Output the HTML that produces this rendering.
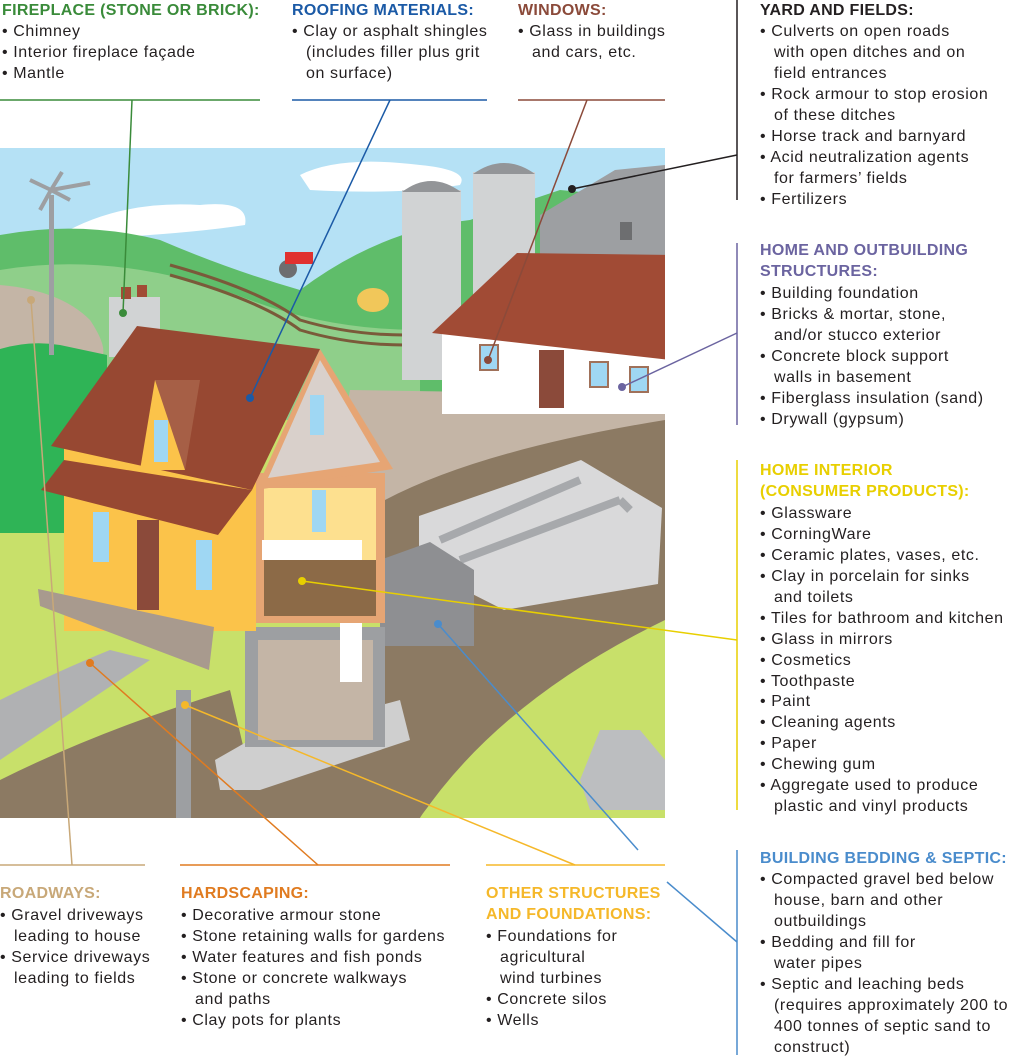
<!DOCTYPE html>
<html><head><meta charset="utf-8"><style>
html,body{margin:0;padding:0;background:#fff;}
svg{display:block;}
text{font-family:"Liberation Sans",Arial,sans-serif;font-size:16px;letter-spacing:0.6px;fill:#231f20;}
.h{font-weight:bold;letter-spacing:0.3px;}
</style></head><body>
<svg width="1024" height="1059" viewBox="0 0 1024 1059" xmlns="http://www.w3.org/2000/svg">
<defs><clipPath id="c"><rect x="0" y="148" width="665" height="670"/></clipPath></defs>
<g clip-path="url(#c)">
<rect x="0" y="148" width="665" height="670" fill="#b5e1f5"/>
<rect x="0" y="400" width="665" height="418" fill="#c8e06a"/>
<path d="M300,175 Q340,155 420,165 Q470,170 460,185 Q400,195 310,190 Z" fill="#fff"/>
<path d="M60,235 Q120,200 200,205 Q250,200 245,225 Q180,235 60,240 Z" fill="#fff"/>
<path d="M0,235 Q80,220 160,240 Q230,270 300,290 Q380,230 470,220 L560,190 L665,200 L665,420 L0,420 Z" fill="#5fbd6a"/>
<path d="M0,270 Q120,250 250,300 Q330,330 420,330 L420,420 L0,420 Z" fill="#8fcf8a"/>
<path d="M0,285 Q60,290 90,320 Q110,350 100,360 L0,360 Z" fill="#c4b5a6"/>
<path d="M170,265 Q260,290 300,320 Q350,335 405,335" stroke="#7a5a3a" stroke-width="3" fill="none"/>
<path d="M170,275 Q260,300 300,330 Q350,345 405,345" stroke="#7a5a3a" stroke-width="3" fill="none"/>
<path d="M540,215 L615,170 L665,165 L665,300 L540,300 Z" fill="#9d9fa2"/>
<rect x="620" y="222" width="12" height="18" fill="#6d6e70"/>
<rect x="402" y="190" width="59" height="190" fill="#d1d3d4"/>
<path d="M402,192 Q431,170 461,192 Z" fill="#939598"/>
<rect x="473" y="172" width="62" height="165" fill="#d1d3d4"/>
<path d="M473,174 Q504,152 535,174 Z" fill="#939598"/>
<circle cx="288" cy="269" r="9" fill="#6d6e70"/><rect x="285" y="252" width="28" height="12" fill="#e0312f"/>
<ellipse cx="373" cy="300" rx="16" ry="12" fill="#f1c75a"/>
<path d="M350,390 L665,395 L665,440 Q560,460 470,480 Q420,500 385,540 L330,500 Z" fill="#c4b5a6"/>
<path d="M385,500 Q480,450 665,420 L665,640 Q560,700 480,760 Q430,800 420,818 L190,818 Q260,720 380,650 Z" fill="#8c7a63"/>
<path d="M0,818 L0,780 Q100,730 230,690 L260,818 Z" fill="#8c7a63"/>
<path d="M0,700 Q60,670 110,650 L150,660 Q90,700 0,760 Z" fill="#b0b1b3"/>
<rect x="442" y="332" width="223" height="82" fill="#fff"/>
<path d="M432,333 L517,253 L670,255 L670,360 Z" fill="#a14b35"/>
<rect x="480" y="345" width="18" height="25" fill="#9fd7f3" stroke="#a0715a" stroke-width="2"/>
<rect x="539" y="350" width="25" height="58" fill="#8b4a3a"/>
<rect x="590" y="362" width="18" height="25" fill="#9fd7f3" stroke="#a0715a" stroke-width="2"/>
<rect x="630" y="367" width="18" height="25" fill="#9fd7f3" stroke="#a0715a" stroke-width="2"/>
<path d="M419,516 L581,460 L662,508 L658,584 L504,610 L419,567 Z" fill="#d9d9da"/>
<path d="M440,540 L580,480 M460,560 L620,500 M620,500 L630,510" stroke="#a7a9ac" stroke-width="8" fill="none"/>
<path d="M380,560 L430,542 L474,570 L474,646 L380,646 Z" fill="#8e8f92"/>
<path d="M420,818 Q500,700 665,620 L665,818 Z" fill="#c8e06a"/>
<path d="M580,780 L600,730 L640,730 L665,760 L665,810 L590,810 Z" fill="#bcbec0"/>
<path d="M0,349 Q30,340 60,345 L107,355 L107,533 L0,533 Z" fill="#2fb456"/>
<rect x="49" y="195" width="5" height="160" fill="#9d9fa2"/>
<path d="M51,190 L30,180 M51,190 L40,210 M51,190 L62,172 M51,190 L70,200 M51,190 L90,183" stroke="#9d9fa2" stroke-width="4"/>
<rect x="109" y="297" width="51" height="60" fill="#d1d3d4"/>
<rect x="121" y="287" width="10" height="12" fill="#a14b35"/><rect x="137" y="285" width="10" height="12" fill="#a14b35"/>
<path d="M215,760 L250,740 L400,700 L410,740 L260,790 L220,790 Z" fill="#cfcfcf"/>
<rect x="245" y="627" width="140" height="120" fill="#9d9fa2"/>
<rect x="258" y="640" width="115" height="100" fill="#c4b5a6"/>
<rect x="340" y="620" width="22" height="62" fill="#fff"/>
<rect x="176" y="690" width="15" height="128" fill="#9d9fa2"/>
<rect x="64" y="448" width="192" height="183" fill="#fbc34a"/>
<rect x="256" y="473" width="129" height="150" fill="#e6a574"/>
<rect x="264" y="488" width="112" height="128" fill="#fde08f"/>
<rect x="264" y="560" width="112" height="56" fill="#8c6a47"/>
<rect x="262" y="540" width="100" height="20" fill="#fff"/>
<path d="M320,349 L393,469 L256,490 Z" fill="#e6a574"/>
<path d="M320,360 L380,462 L268,478 Z" fill="#d9d0cb"/>
<path d="M51,446 L137,326 L320,349 L252,490 Z" fill="#974832"/>
<path d="M155,380 L200,380 L185,470 Z" fill="#a65f46"/>
<path d="M155,380 L185,470 L140,470 Z" fill="#fbc34a"/>
<path d="M41,490 L64,460 L252,490 L218,535 Z" fill="#974832"/>
<path d="M38,589 L214,627 L209,670 L40,606 Z" fill="#a89a8e"/>
<rect x="137" y="520" width="22" height="90" fill="#8b4a3a"/>
<rect x="93" y="512" width="16" height="50" fill="#9fd7f3"/><rect x="196" y="540" width="16" height="50" fill="#9fd7f3"/>
<rect x="154" y="420" width="14" height="42" fill="#9fd7f3"/><rect x="310" y="395" width="14" height="40" fill="#9fd7f3"/>
<rect x="312" y="490" width="14" height="42" fill="#9fd7f3"/>
</g>
<g fill="none" stroke-width="1.5">
<line x1="0" y1="100" x2="260" y2="100" stroke="#3a8b3a"/>
<line x1="132" y1="100" x2="123" y2="313" stroke="#3a8b3a"/>
<line x1="292" y1="100" x2="487" y2="100" stroke="#1b5aa6"/>
<line x1="390" y1="100" x2="250" y2="398" stroke="#1b5aa6"/>
<line x1="518" y1="100" x2="665" y2="100" stroke="#8b4a3a"/>
<line x1="587" y1="100" x2="488" y2="360" stroke="#8b4a3a"/>
<line x1="737" y1="0" x2="737" y2="200" stroke="#231f20"/>
<line x1="737" y1="155" x2="572" y2="189" stroke="#231f20"/>
<line x1="737" y1="243" x2="737" y2="425" stroke="#6b64a0"/>
<line x1="737" y1="333" x2="622" y2="387" stroke="#6b64a0"/>
<line x1="737" y1="460" x2="737" y2="810" stroke="#e8cf00"/>
<line x1="737" y1="640" x2="302" y2="581" stroke="#e8cf00"/>
<line x1="737" y1="850" x2="737" y2="1055" stroke="#4a8ccc"/>
<line x1="638" y1="850" x2="438" y2="624" stroke="#4a8ccc"/>
<line x1="667" y1="882" x2="737" y2="942" stroke="#4a8ccc"/>
<line x1="0" y1="865" x2="145" y2="865" stroke="#c8a878"/>
<line x1="72" y1="865" x2="31" y2="300" stroke="#c8a878"/>
<line x1="180" y1="865" x2="450" y2="865" stroke="#e07b20"/>
<line x1="318" y1="865" x2="90" y2="663" stroke="#e07b20"/>
<line x1="486" y1="865" x2="665" y2="865" stroke="#f5b82a"/>
<line x1="575" y1="865" x2="185" y2="705" stroke="#f5b82a"/>
</g>
<g>
<circle cx="123" cy="313" r="4" fill="#3a8b3a"/><circle cx="250" cy="398" r="4" fill="#1b5aa6"/>
<circle cx="488" cy="360" r="4" fill="#8b4a3a"/><circle cx="572" cy="189" r="4" fill="#231f20"/>
<circle cx="622" cy="387" r="4" fill="#6b64a0"/><circle cx="302" cy="581" r="4" fill="#e8cf00"/>
<circle cx="438" cy="624" r="4" fill="#4a8ccc"/><circle cx="31" cy="300" r="4" fill="#c8a878"/>
<circle cx="90" cy="663" r="4" fill="#e07b20"/><circle cx="185" cy="705" r="4" fill="#f5b82a"/>
</g>
<text x="2" y="15" class="h" style="fill:#3a8b3a">FIREPLACE (STONE OR BRICK):</text>
<text x="2" y="36">• Chimney</text><text x="2" y="57">• Interior fireplace façade</text><text x="2" y="78">• Mantle</text>
<text x="292" y="15" class="h" style="fill:#1b5aa6">ROOFING MATERIALS:</text>
<text x="292" y="36">• Clay or asphalt shingles</text><text x="306" y="57">(includes filler plus grit</text><text x="306" y="78">on surface)</text>
<text x="518" y="15" class="h" style="fill:#8b4a3a">WINDOWS:</text>
<text x="518" y="36">• Glass in buildings</text><text x="532" y="57">and cars, etc.</text>
<text x="760" y="15" class="h">YARD AND FIELDS:</text>
<text x="760" y="36">• Culverts on open roads</text><text x="774" y="57">with open ditches and on</text><text x="774" y="78">field entrances</text>
<text x="760" y="99">• Rock armour to stop erosion</text><text x="774" y="120">of these ditches</text>
<text x="760" y="141">• Horse track and barnyard</text>
<text x="760" y="162">• Acid neutralization agents</text><text x="774" y="183">for farmers’ fields</text>
<text x="760" y="204">• Fertilizers</text>
<text x="760" y="255" class="h" style="fill:#6b64a0">HOME AND OUTBUILDING</text>
<text x="760" y="276" class="h" style="fill:#6b64a0">STRUCTURES:</text>
<text x="760" y="298">• Building foundation</text>
<text x="760" y="319">• Bricks &amp; mortar, stone,</text><text x="774" y="340">and/or stucco exterior</text>
<text x="760" y="361">• Concrete block support</text><text x="774" y="382">walls in basement</text>
<text x="760" y="403">• Fiberglass insulation (sand)</text>
<text x="760" y="424">• Drywall (gypsum)</text>
<text x="760" y="475" class="h" style="fill:#e8cf00">HOME INTERIOR</text>
<text x="760" y="496" class="h" style="fill:#e8cf00">(CONSUMER PRODUCTS):</text>
<text x="760" y="518">• Glassware</text>
<text x="760" y="539">• CorningWare</text>
<text x="760" y="560">• Ceramic plates, vases, etc.</text>
<text x="760" y="581">• Clay in porcelain for sinks</text><text x="774" y="602">and toilets</text>
<text x="760" y="623">• Tiles for bathroom and kitchen</text>
<text x="760" y="644">• Glass in mirrors</text>
<text x="760" y="665">• Cosmetics</text>
<text x="760" y="686">• Toothpaste</text>
<text x="760" y="706">• Paint</text>
<text x="760" y="727">• Cleaning agents</text>
<text x="760" y="748">• Paper</text>
<text x="760" y="769">• Chewing gum</text>
<text x="760" y="790">• Aggregate used to produce</text><text x="774" y="811">plastic and vinyl products</text>
<text x="760" y="863" class="h" style="fill:#4a8ccc">BUILDING BEDDING &amp; SEPTIC:</text>
<text x="760" y="884">• Compacted gravel bed below</text><text x="774" y="905">house, barn and other</text><text x="774" y="926">outbuildings</text>
<text x="760" y="947">• Bedding and fill for</text><text x="774" y="968">water pipes</text>
<text x="760" y="989">• Septic and leaching beds</text><text x="774" y="1010">(requires approximately 200 to</text><text x="774" y="1031">400 tonnes of septic sand to</text><text x="774" y="1052">construct)</text>
<text x="0" y="898" class="h" style="fill:#c8a878">ROADWAYS:</text>
<text x="0" y="920">• Gravel driveways</text><text x="14" y="941">leading to house</text>
<text x="0" y="962">• Service driveways</text><text x="14" y="983">leading to fields</text>
<text x="181" y="898" class="h" style="fill:#e07b20">HARDSCAPING:</text>
<text x="181" y="920">• Decorative armour stone</text>
<text x="181" y="941">• Stone retaining walls for gardens</text>
<text x="181" y="962">• Water features and fish ponds</text>
<text x="181" y="983">• Stone or concrete walkways</text><text x="195" y="1004">and paths</text>
<text x="181" y="1025">• Clay pots for plants</text>
<text x="486" y="898" class="h" style="fill:#f5b82a">OTHER STRUCTURES</text>
<text x="486" y="919" class="h" style="fill:#f5b82a">AND FOUNDATIONS:</text>
<text x="486" y="941">• Foundations for</text><text x="500" y="962">agricultural</text><text x="500" y="983">wind turbines</text>
<text x="486" y="1004">• Concrete silos</text>
<text x="486" y="1025">• Wells</text>
</svg>
</body></html>
